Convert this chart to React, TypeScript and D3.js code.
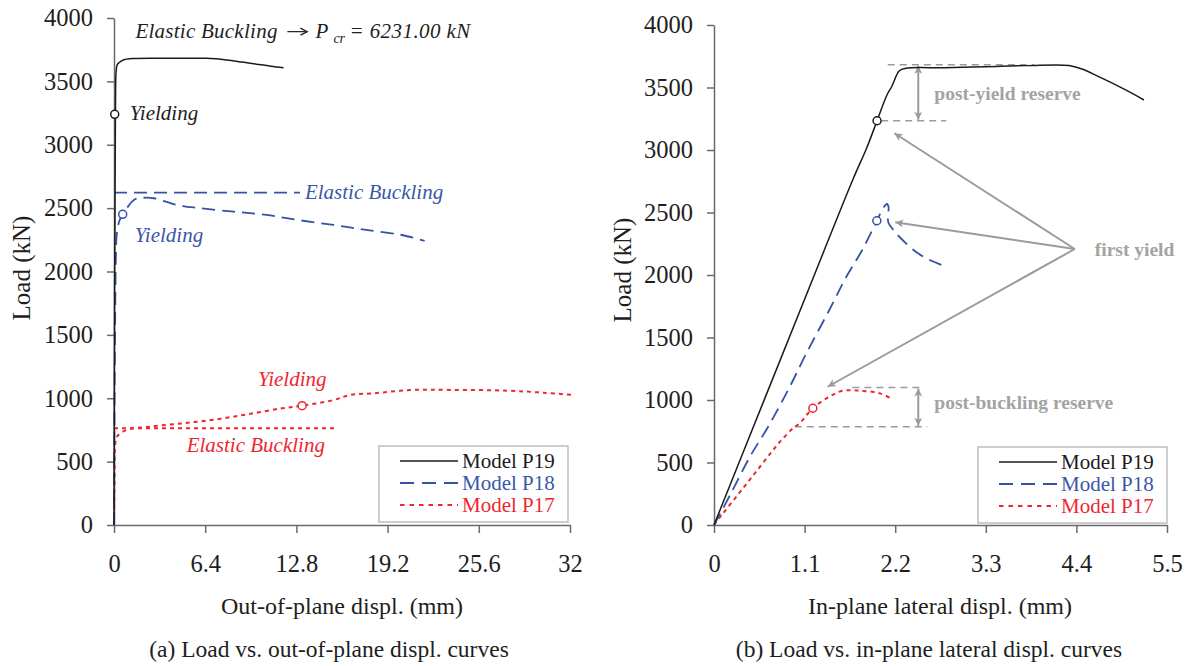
import React, { useEffect, useRef } from "react";
import * as d3 from "d3";

type Pt = [number, number];

const FONT = "'Liberation Serif', 'Times New Roman', serif";
const AXIS_COLOR = "#6a6a6a";
const NOTE_GREY = "#a3a3a3";
const ARROW_GREY = "#9b9b9b";

const seriesNames = ["Model P19", "Model P18", "Model P17"];
const seriesColors = ["#1b1b1b", "#3552a6", "#f0252d"];
const seriesText = ["#1b1b1b", "#3a57a8", "#ee2630"];

// (a) load vs. out-of-plane displacement  [mm, kN]
const outP19: Pt[] = [
  [0, 0], [0.02, 1000], [0.04, 1800], [0.07, 2500], [0.09, 3000], [0.11, 3400],
  [0.14, 3560], [0.22, 3630], [0.45, 3655], [0.65, 3669], [1.35, 3680], [3.0, 3683],
  [5.0, 3683], [6.5, 3682], [7.9, 3669], [9.0, 3652], [10.0, 3636], [11.0, 3620], [11.9, 3608],
];
const outP18: Pt[] = [
  [0, 0], [0.03, 800], [0.08, 1600], [0.13, 2100], [0.2, 2300], [0.38, 2400], [0.61, 2451],
  [0.9, 2500], [1.47, 2570], [2.1, 2582], [2.8, 2578], [4.4, 2525], [6.0, 2500], [8.4, 2472],
  [10.7, 2446], [13.0, 2405], [15.4, 2367], [17.7, 2328], [20.1, 2290], [21.8, 2242],
];
const outP17: Pt[] = [
  [0, 0], [0.03, 300], [0.07, 600], [0.15, 680], [0.3, 710], [0.9, 750], [2.5, 776],
  [4.8, 802], [7.2, 834], [9.5, 876], [11.8, 921], [13.2, 941], [15.4, 986], [16.6, 1026],
  [18.2, 1039], [20.8, 1065], [23.6, 1066], [27.6, 1060], [30.1, 1044], [32.2, 1026],
];
// first-yield points, P19 / P18 / P17
const outYield: Pt[] = [[0.05, 3240], [0.61, 2451], [13.2, 941]];
// elastic buckling loads of P18 / P17 and how far their reference lines run
const elasticLoads = [2622, 763];
const elasticReach = [13.05, 15.65];
const pcrP19 = "6231.00";

// (b) load vs. in-plane lateral displacement  [mm, kN]
const inP19: Pt[] = [
  [0, 0], [0.6, 985], [1.2, 1970], [1.69, 2770], [1.85, 3010], [1.98, 3234], [2.1, 3440],
  [2.16, 3510], [2.25, 3634], [2.33, 3654], [2.8, 3658], [3.3, 3666], [3.8, 3675],
  [4.31, 3676], [4.5, 3640], [4.67, 3587], [4.92, 3507], [5.1, 3445], [5.22, 3400],
];
const inP18: Pt[] = [
  [0, 0], [0.2, 245], [0.436, 546], [0.657, 786], [0.9, 1080], [1.122, 1374], [1.4, 1720],
  [1.607, 1986], [1.8, 2200], [1.977, 2434], [2.05, 2530], [2.1, 2568], [2.12, 2540],
  [2.11, 2470], [2.12, 2414], [2.18, 2360], [2.25, 2306], [2.45, 2186], [2.62, 2120], [2.8, 2072],
];
const inP17: Pt[] = [
  [0, 0], [0.1, 85], [0.3, 250], [0.496, 414], [0.7, 585], [0.82, 680], [0.96, 774],
  [1.04, 814], [1.2, 934], [1.4, 1026], [1.56, 1074], [1.77, 1074], [2.01, 1054], [2.17, 1006],
];
const inYield: Pt[] = [[1.98, 3234], [1.977, 2434], [1.2, 934]];
// reserve bands: [lower, upper] load
const postYieldBand = [3234, 3682];
const postBucklingBand = [786, 1100];
const firstYieldHub: Pt = [4.38, 2208];
const firstYieldTips: Pt[] = [[2.19, 3134], [2.2, 2422], [1.38, 1106]];

const outXTicks = [0, 6.4, 12.8, 19.2, 25.6, 32];
const inXTicks = [0, 1.1, 2.2, 3.3, 4.4, 5.5];
const loadTicks = [0, 500, 1000, 1500, 2000, 2500, 3000, 3500, 4000];

const lineDash = [undefined, "13 7", "4 4"];
const lineWidth = [1.5, 1.8, 2];

function Axis({ scale, orient, ticks, size, pad }: any) {
  const ref = useRef<SVGGElement>(null);
  useEffect(() => {
    if (!ref.current) return;
    const ax = orient === "left" ? d3.axisLeft(scale) : d3.axisBottom(scale);
    ax.tickValues(ticks).tickSize(size).tickSizeOuter(0).tickPadding(pad).tickFormat((d: any) => String(d));
    const g = d3.select(ref.current);
    g.call(ax as any);
    g.attr("font-family", FONT).attr("font-size", 24.5);
    g.select(".domain").attr("stroke", AXIS_COLOR).attr("stroke-width", 1.5);
    g.selectAll(".tick line").attr("stroke", AXIS_COLOR).attr("stroke-width", 1.5);
    g.selectAll(".tick text").attr("fill", "#1e1e1e");
  }, [scale, orient, ticks, size, pad]);
  return <g ref={ref} />;
}

function Legend({ x, y }: { x: number; y: number }) {
  return (
    <g transform={`translate(${x},${y})`}>
      <rect x={0} y={0} width={189} height={76} fill="#fff" stroke="#bdbdbd" strokeWidth={1.5} />
      {seriesNames.map((name, i) => (
        <g key={name} transform={`translate(0,${15 + i * 22})`}>
          <line x1={21} x2={79} y1={0} y2={0} stroke={seriesColors[i]} strokeWidth={lineWidth[i]}
            strokeDasharray={i === 1 ? "14 8" : i === 2 ? "4.5 5" : undefined} />
          <text x={83} y={7} fontFamily={FONT} fontSize={21} fill={seriesText[i]}>{name}</text>
        </g>
      ))}
    </g>
  );
}

export default function App() {
  const W = 1189, H = 666;

  // panel (a)
  const xA = d3.scaleLinear().domain([0, 32]).range([114, 570]);
  const yA = d3.scaleLinear().domain([0, 4000]).range([525, 18]);
  // panel (b)
  const xB = d3.scaleLinear().domain([0, 5.5]).range([714, 1167]);
  const yB = d3.scaleLinear().domain([0, 4000]).range([525, 25]);

  const lineA = d3.line<Pt>().x(d => xA(d[0])).y(d => yA(d[1])).curve(d3.curveCatmullRom.alpha(0.5));
  const lineB = d3.line<Pt>().x(d => xB(d[0])).y(d => yB(d[1])).curve(d3.curveCatmullRom.alpha(0.5));

  const outSeries = [outP19, outP18, outP17];
  const inSeries = [inP19, inP18, inP17];

  const hub = [xB(firstYieldHub[0]), yB(firstYieldHub[1])];
  const bandX = xB(2.48);

  const italic = { fontFamily: FONT, fontStyle: "italic" as const, fontSize: 21 };
  const boldNote = { fontFamily: FONT, fontWeight: 700 as const, fontSize: 19.5, fill: NOTE_GREY };

  // P_cr caption pieces
  const pcrX = xA(1.5);
  const pcrY = yA(3845);

  return (
    <svg width={W} height={H} viewBox={`0 0 ${W} ${H}`}
      style={{ position: "absolute", left: 0, top: 0, background: "#fff" }}>
      <defs>
        <marker id="head" viewBox="0 0 10 10" refX={10} refY={5} markerWidth={11} markerHeight={8}
          markerUnits="userSpaceOnUse" orient="auto-start-reverse">
          <path d="M0,0 L10,5 L0,10 L2.5,5 z" fill={ARROW_GREY} />
        </marker>
      </defs>
      <rect width={W} height={H} fill="#fff" />

      {/* ---------- (a) out-of-plane ---------- */}
      <g transform={`translate(114,0)`}>
        <Axis scale={yA} orient="left" ticks={loadTicks} size={7} pad={14} />
      </g>
      <g transform={`translate(0,525)`}>
        <Axis scale={xA} orient="bottom" ticks={outXTicks} size={8} pad={22} />
      </g>

      {elasticLoads.map((p, i) => (
        <line key={"eb" + i} x1={xA(0)} x2={xA(elasticReach[i])} y1={yA(p)} y2={yA(p)}
          stroke={seriesColors[i + 1]} strokeWidth={lineWidth[i + 1]} strokeDasharray={i === 0 ? "13 7" : "4 4"} />
      ))}
      {[2, 1, 0].map(i => (
        <path key={"a" + i} d={lineA(outSeries[i]) || ""} fill="none" stroke={seriesColors[i]}
          strokeWidth={lineWidth[i]} strokeDasharray={lineDash[i]} />
      ))}
      {outYield.map((p, i) => (
        <circle key={"ay" + i} cx={xA(p[0])} cy={yA(p[1])} r={4} fill="#fff" stroke={seriesColors[i]} strokeWidth={1.5} />
      ))}

      <g {...italic} fill="#1e1e1e">
        <text x={pcrX} y={pcrY} textLength={142} lengthAdjust="spacing">Elastic Buckling</text>
        {/* arrow between the two parts */}
        <line x1={pcrX + 152} x2={pcrX + 170} y1={pcrY - 6} y2={pcrY - 6} stroke="#1e1e1e" strokeWidth={1.2} />
        <path d={`M${pcrX + 165},${pcrY - 9.5} L${pcrX + 172},${pcrY - 6} L${pcrX + 165},${pcrY - 2.5}`}
          fill="none" stroke="#1e1e1e" strokeWidth={1.2} />
        <text x={pcrX + 180} y={pcrY}>P</text>
        <text x={pcrX + 198} y={pcrY + 5} fontSize={14}>cr</text>
        <text x={pcrX + 214} y={pcrY} textLength={121} lengthAdjust="spacing">{`= ${pcrP19} kN`}</text>
      </g>
      <text x={xA(outYield[0][0]) + 15} y={yA(outYield[0][1]) + 6} {...italic} fill="#1e1e1e">Yielding</text>
      <text x={xA(elasticReach[0]) + 5} y={yA(elasticLoads[0]) + 6} {...italic} fill={seriesText[1]}>Elastic Buckling</text>
      <text x={xA(outYield[1][0]) + 12} y={yA(outYield[1][1]) + 28} {...italic} fill={seriesText[1]}>Yielding</text>
      <text x={xA(outYield[2][0]) - 44} y={yA(outYield[2][1]) - 20} {...italic} fill={seriesText[2]}>Yielding</text>
      <text x={xA(5.1)} y={yA(elasticLoads[1]) + 24} {...italic} fill={seriesText[2]}>Elastic Buckling</text>

      <Legend x={379} y={446} />

      <text transform={`translate(30,268) rotate(-90)`} textAnchor="middle" fontFamily={FONT} fontSize={25} fill="#1e1e1e">Load (kN)</text>
      <text x={342} y={614} textAnchor="middle" fontFamily={FONT} fontSize={24} fill="#1e1e1e">Out-of-plane displ. (mm)</text>
      <text x={329} y={657} textAnchor="middle" fontFamily={FONT} fontSize={23.5} fill="#1e1e1e">(a) Load vs. out-of-plane displ. curves</text>

      {/* ---------- (b) in-plane ---------- */}
      <g transform={`translate(714,0)`}>
        <Axis scale={yB} orient="left" ticks={loadTicks} size={7} pad={14} />
      </g>
      <g transform={`translate(0,525)`}>
        <Axis scale={xB} orient="bottom" ticks={inXTicks} size={8} pad={22} />
      </g>

      {/* reserve reference lines */}
      <g stroke={ARROW_GREY} strokeWidth={1.5} strokeDasharray="7 5">
        <line x1={xB(2.11)} x2={xB(3.89)} y1={yB(postYieldBand[1])} y2={yB(postYieldBand[1])} />
        <line x1={xB(2.03)} x2={xB(2.82)} y1={yB(postYieldBand[0])} y2={yB(postYieldBand[0])} />
        <line x1={xB(1.68)} x2={xB(2.54)} y1={yB(postBucklingBand[1])} y2={yB(postBucklingBand[1])} />
        <line x1={xB(0.98)} x2={xB(2.59)} y1={yB(postBucklingBand[0])} y2={yB(postBucklingBand[0])} />
      </g>
      <g stroke={ARROW_GREY} strokeWidth={2}>
        <line x1={bandX} x2={bandX} y1={yB(postYieldBand[1]) + 1} y2={yB(postYieldBand[0]) - 1}
          markerStart="url(#head)" markerEnd="url(#head)" />
        <line x1={bandX} x2={bandX} y1={yB(postBucklingBand[1]) + 1} y2={yB(postBucklingBand[0]) - 1}
          markerStart="url(#head)" markerEnd="url(#head)" />
        {firstYieldTips.map((t, i) => (
          <line key={"fy" + i} x1={hub[0]} y1={hub[1]} x2={xB(t[0])} y2={yB(t[1])} markerEnd="url(#head)" />
        ))}
      </g>

      {[2, 1, 0].map(i => (
        <path key={"b" + i} d={lineB(inSeries[i]) || ""} fill="none" stroke={seriesColors[i]}
          strokeWidth={lineWidth[i]} strokeDasharray={lineDash[i]} />
      ))}
      {inYield.map((p, i) => (
        <circle key={"by" + i} cx={xB(p[0])} cy={yB(p[1])} r={4} fill="#fff" stroke={seriesColors[i]} strokeWidth={1.5} />
      ))}

      <text x={xB(2.675)} y={yB(3400)} {...boldNote}>post-yield reserve</text>
      <text x={hub[0] + 20} y={hub[1] + 7} {...boldNote}>first yield</text>
      <text x={xB(2.675)} y={yB(928)} {...boldNote}>post-buckling reserve</text>

      <Legend x={978} y={447} />

      <text transform={`translate(631,270) rotate(-90)`} textAnchor="middle" fontFamily={FONT} fontSize={25} fill="#1e1e1e">Load (kN)</text>
      <text x={940} y={614} textAnchor="middle" fontFamily={FONT} fontSize={24} fill="#1e1e1e">In-plane lateral displ. (mm)</text>
      <text x={929} y={657} textAnchor="middle" fontFamily={FONT} fontSize={23.5} fill="#1e1e1e">(b) Load vs. in-plane lateral displ. curves</text>
    </svg>
  );
}
